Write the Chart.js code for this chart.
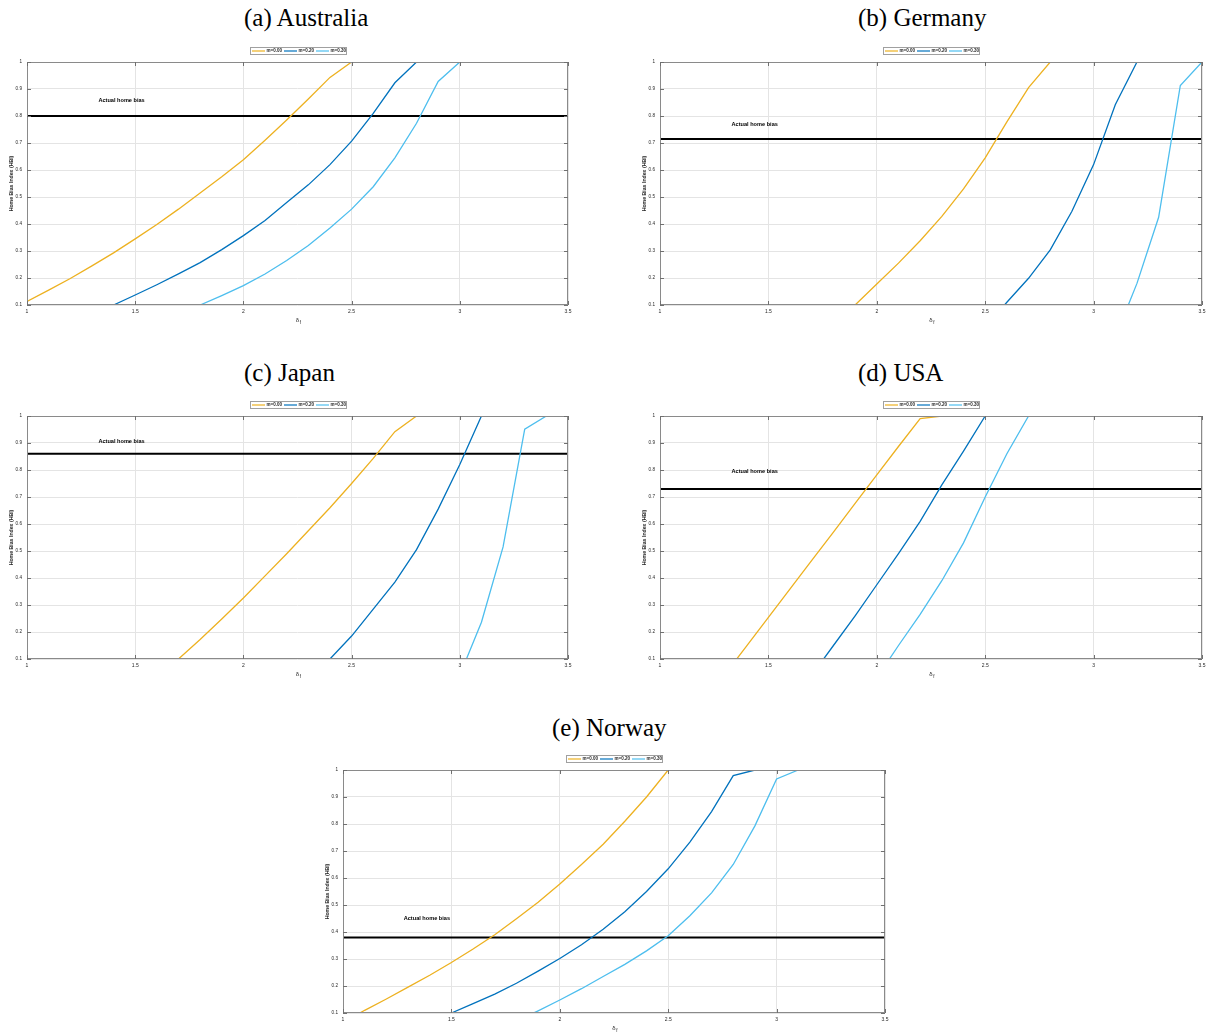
<!DOCTYPE html>
<html><head><meta charset="utf-8">
<script src="https://cdn.jsdelivr.net/npm/chart.js@4/dist/chart.umd.min.js"></script>
<style>
html,body{margin:0;padding:0;background:#fff}
body{width:1210px;height:1033px;position:relative;overflow:hidden}
.t{position:absolute;font-family:'Liberation Serif','DejaVu Serif',serif;font-size:25px;line-height:1;color:#000;white-space:nowrap}
canvas{position:absolute}
</style></head><body>
<div class="t" style="left:244px;top:5px">(a) Australia</div>
<div class="t" style="left:858px;top:5px">(b) Germany</div>
<div class="t" style="left:244px;top:360px">(c) Japan</div>
<div class="t" style="left:858px;top:360px">(d) USA</div>
<div class="t" style="left:552px;top:715px">(e) Norway</div>
<script>
// ---- tick labels / series names ----
const ticksX = [1, 1.5, 2, 2.5, 3, 3.5];
const ticksY = [0.1, 0.2, 0.3, 0.4, 0.5, 0.6, 0.7, 0.8, 0.9, 1];
const seriesNames = ['m=0.00', 'm=0.20', 'm=0.30'];

// ---- Australia ----
const ausX0  = [1.0,1.1,1.2,1.3,1.4,1.5,1.6,1.7,1.8,1.9,2.0,2.1,2.2,2.3,2.4,2.5];
const ausY0  = [0.113,0.155,0.198,0.245,0.293,0.345,0.398,0.455,0.515,0.575,0.638,0.71,0.785,0.863,0.943,1.0];
const ausX20 = [1.4,1.5,1.6,1.7,1.8,1.9,2.0,2.1,2.2,2.3,2.4,2.5,2.6,2.7,2.8];
const ausY20 = [0.10,0.137,0.175,0.215,0.257,0.305,0.357,0.413,0.48,0.545,0.62,0.707,0.81,0.923,1.0];
const ausX30 = [1.8,1.9,2.0,2.1,2.2,2.3,2.4,2.5,2.6,2.7,2.8,2.9,3.0];
const ausY30 = [0.10,0.135,0.172,0.215,0.265,0.32,0.385,0.455,0.538,0.645,0.773,0.928,1.0];
const ausActual = 0.80;

// ---- Germany ----
const gerX0  = [1.9,2.0,2.1,2.2,2.3,2.4,2.5,2.6,2.7,2.8];
const gerY0  = [0.10,0.178,0.255,0.338,0.428,0.53,0.645,0.778,0.905,1.0];
const gerX20 = [2.5,2.6,2.7,2.8,2.9,3.0,3.1,3.2];
const gerY20 = [0.02,0.11,0.199,0.304,0.447,0.62,0.842,1.0];
const gerX30 = [3.1,3.2,3.3,3.4,3.5];
const gerY30 = [-0.02,0.18,0.425,0.913,1.0];
const gerActual = 0.715;

// ---- Japan ----
const jpnX0  = [1.7,1.8,1.9,2.0,2.1,2.2,2.3,2.4,2.5,2.6,2.7,2.8];
const jpnY0  = [0.10,0.172,0.248,0.326,0.408,0.49,0.575,0.66,0.75,0.843,0.942,1.0];
const jpnX20 = [2.4,2.5,2.6,2.7,2.8,2.9,3.0,3.1];
const jpnY20 = [0.10,0.185,0.285,0.385,0.505,0.655,0.82,1.0];
const jpnX30 = [3.0,3.1,3.2,3.3,3.4];
const jpnY30 = [0.04,0.236,0.515,0.951,1.0];
const jpnActual = 0.86;

// ---- USA ----
const usaX0  = [1.3,1.4,1.5,1.6,1.7,1.8,1.9,2.0,2.1,2.2,2.3];
const usaY0  = [0.043,0.149,0.254,0.36,0.465,0.57,0.676,0.782,0.887,0.99,1.0];
const usaX20 = [1.7,1.8,1.9,2.0,2.1,2.2,2.3,2.4,2.5];
const usaY20 = [0.04,0.15,0.26,0.375,0.49,0.61,0.745,0.87,1.0];
const usaX30 = [2.0,2.1,2.2,2.3,2.4,2.5,2.6,2.7];
const usaY30 = [0.03,0.15,0.265,0.39,0.53,0.70,0.86,1.0];
const usaActual = 0.73;

// ---- Norway ----
const norX0  = [1.0,1.1,1.2,1.3,1.4,1.5,1.6,1.7,1.8,1.9,2.0,2.1,2.2,2.3,2.4,2.5];
const norY0  = [0.065,0.11,0.152,0.196,0.24,0.287,0.337,0.39,0.449,0.51,0.578,0.65,0.725,0.81,0.9,1.0];
const norX20 = [1.5,1.6,1.7,1.8,1.9,2.0,2.1,2.2,2.3,2.4,2.5,2.6,2.7,2.8,2.9];
const norY20 = [0.10,0.135,0.17,0.21,0.255,0.302,0.353,0.41,0.475,0.55,0.634,0.733,0.846,0.979,1.0];
const norX30 = [1.8,1.9,2.0,2.1,2.2,2.3,2.4,2.5,2.6,2.7,2.8,2.9,3.0,3.1];
const norY30 = [0.07,0.108,0.148,0.19,0.235,0.28,0.33,0.386,0.46,0.545,0.65,0.793,0.967,1.0];
const norActual = 0.38;

// ---- styles / layout ----
const seriesColors = ['#EDB120', '#0072BD', '#4DBEEE'];
const FONT = "'Liberation Sans', Arial, sans-serif";
const panels = [
  {box:[27,62,568,305],   xs:[ausX0,ausX20,ausX30], ys:[ausY0,ausY20,ausY30], actual:ausActual, labelAt:[1.33,0.856]},
  {box:[660,62,1202,305], xs:[gerX0,gerX20,gerX30], ys:[gerY0,gerY20,gerY30], actual:gerActual, labelAt:[1.33,0.77]},
  {box:[27,416,568,659],  xs:[jpnX0,jpnX20,jpnX30], ys:[jpnY0,jpnY20,jpnY30], actual:jpnActual, labelAt:[1.33,0.904]},
  {box:[660,416,1202,659],xs:[usaX0,usaX20,usaX30], ys:[usaY0,usaY20,usaY30], actual:usaActual, labelAt:[1.33,0.793]},
  {box:[343,770,885,1013],xs:[norX0,norX20,norX30], ys:[norY0,norY20,norY30], actual:norActual, labelAt:[1.28,0.452]}
];

function seg(ctx,x1,y1,x2,y2){ctx.beginPath();ctx.moveTo(x1,y1);ctx.lineTo(x2,y2);ctx.stroke();}

const hbPlugin = {
  id: 'hb',
  afterDraw(chart, args, opts) {
    const {ctx, chartArea: a, scales: {x, y}} = chart;
    ctx.save();
    // axes box
    ctx.strokeStyle = '#8a8a8a'; ctx.lineWidth = 1;
    ctx.strokeRect(a.left + 0.5, a.top + 0.5, a.right - a.left - 1, a.bottom - a.top - 1);
    // inward ticks on all sides
    ctx.strokeStyle = '#707070';
    ticksX.forEach(v => {
      const px = Math.round(x.getPixelForValue(v)) + 0.5;
      seg(ctx, px, a.bottom, px, a.bottom - 4);
      seg(ctx, px, a.top, px, a.top + 4);
    });
    ticksY.forEach(v => {
      const py = Math.round(y.getPixelForValue(v)) + 0.5;
      seg(ctx, a.left, py, a.left + 4, py);
      seg(ctx, a.right, py, a.right - 4, py);
    });
    // "Actual home bias" label
    ctx.fillStyle = '#000';
    ctx.font = 'bold 5.6px ' + FONT;
    ctx.textAlign = 'left'; ctx.textBaseline = 'middle';
    ctx.fillText(opts.label, x.getPixelForValue(opts.at[0]), y.getPixelForValue(opts.at[1]));
    // legend box
    const cx = (a.left + a.right) / 2, lw = 96, lt = a.top - 15, lh = 7;
    ctx.fillStyle = '#fff';
    ctx.fillRect(cx - lw/2, lt, lw, lh);
    ctx.strokeStyle = '#a0a0a0';
    ctx.strokeRect(Math.round(cx - lw/2) + 0.5, lt + 0.5, lw, lh);
    ctx.font = 'bold 4.5px ' + FONT;
    ctx.textBaseline = 'middle';
    chart.data.datasets.forEach((ds, i) => {
      if (i > 2) return;
      const ex = Math.round(cx - lw/2) + i * 32;
      ctx.strokeStyle = ds.borderColor; ctx.lineWidth = 1.2;
      seg(ctx, ex + 2, lt + lh/2 + 0.5, ex + 15, lt + lh/2 + 0.5);
      ctx.fillStyle = '#262626';
      ctx.fillText(ds.label, ex + 16.5, lt + lh/2 + 0.7);
    });
    // subscript f of the x-axis title
    const tx = (a.left + a.right) / 2;
    ctx.font = '4.5px ' + FONT;
    ctx.fillStyle = '#262626';
    ctx.fillText('f', tx + 2.2, x.bottom - 3.6 - 9 + 2.2);
    ctx.restore();
  }
};

panels.forEach(p => {
  const [L, T, R, B] = p.box;
  const padTop = 22, yw = 27, padR = 8, xh = 28;
  const W = (R - L) + yw + padR, H = (B - T) + padTop + xh;
  const cv = document.createElement('canvas');
  cv.width = W; cv.height = H;
  cv.style.left = (L - yw) + 'px'; cv.style.top = (T - padTop) + 'px';
  cv.style.width = W + 'px'; cv.style.height = H + 'px';
  document.body.appendChild(cv);
  const datasets = p.ys.map((ys, i) => ({
    label: seriesNames[i],
    data: p.xs[i].map((xv, j) => ({x: xv, y: ys[j]})),
    borderColor: seriesColors[i], backgroundColor: seriesColors[i],
    borderWidth: 1.3, pointRadius: 0, fill: false, tension: 0, clip: 0
  }));
  datasets.push({
    label: 'Actual home bias',
    data: [{x: ticksX[0], y: p.actual}, {x: ticksX[ticksX.length - 1], y: p.actual}],
    borderColor: '#000', borderWidth: 2, pointRadius: 0, fill: false, clip: 0
  });
  new Chart(cv, {
    type: 'line',
    data: {datasets},
    options: {
      responsive: false, animation: false, devicePixelRatio: 1, events: [],
      layout: {padding: {left: 0, top: padTop, right: padR, bottom: 0}},
      plugins: {legend: {display: false}, tooltip: {enabled: false},
                hb: {label: 'Actual home bias', at: p.labelAt}},
      scales: {
        x: {
          type: 'linear', min: 1, max: 3.5,
          afterBuildTicks: s => { s.ticks = ticksX.map(v => ({value: v})); },
          afterFit: s => { s.height = xh; },
          grid: {color: '#e4e4e4', lineWidth: 1, drawTicks: false},
          border: {display: false},
          ticks: {padding: 4, color: '#262626', font: {family: FONT, size: 5}, maxRotation: 0, autoSkip: false, callback: v => String(v)},
          title: {display: true, text: 'δ', color: '#262626', font: {family: FONT, size: 6}, padding: {top: 0, bottom: 9}}
        },
        y: {
          type: 'linear', min: 0.1, max: 1,
          afterBuildTicks: s => { s.ticks = ticksY.map(v => ({value: v})); },
          afterFit: s => { s.width = yw; },
          grid: {color: '#e4e4e4', lineWidth: 1, drawTicks: false},
          border: {display: false},
          ticks: {padding: 5, color: '#262626', font: {family: FONT, size: 4.6}, autoSkip: false, callback: v => String(v)},
          title: {display: true, text: 'Home Bias Index (HBI)', color: '#262626', font: {family: FONT, size: 5.2, weight: 'bold'}, padding: {top: 8.5, bottom: 0}}
        }
      }
    },
    plugins: [hbPlugin]
  });
});
</script>
</body></html>
